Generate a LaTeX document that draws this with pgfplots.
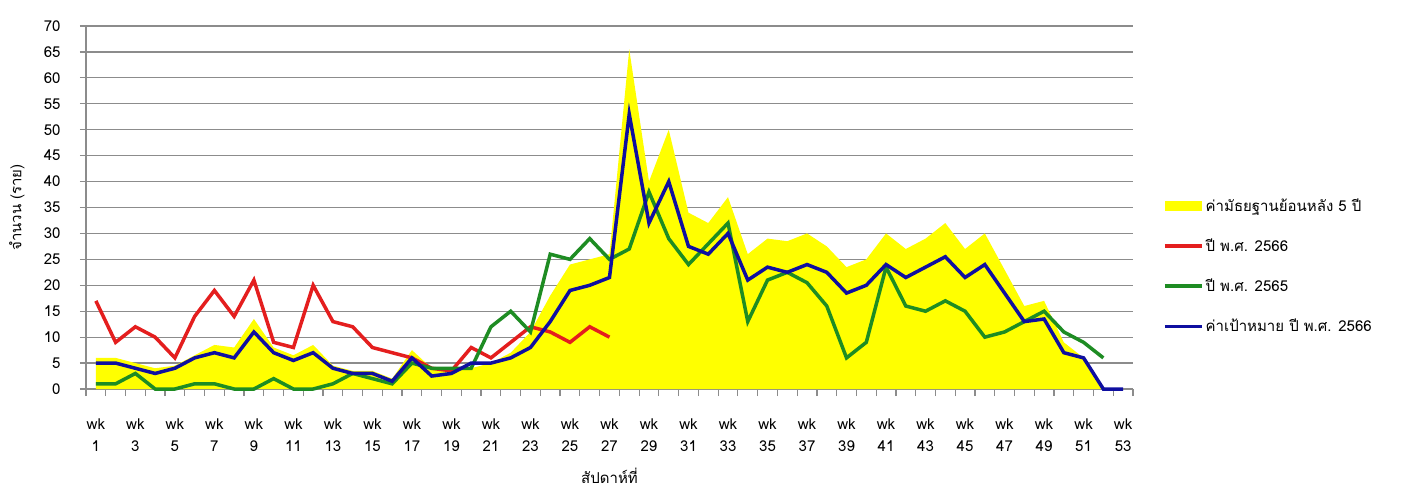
\documentclass[border=0pt]{standalone}
\usepackage{fontspec}
\setmainfont{Loma}[Script=Thai]
\usepackage{pgfplots}
\usepackage{pgfplotstable}
\pgfplotsset{compat=1.18}
\definecolor{cyel}{RGB}{255,255,0}
\definecolor{cred}{RGB}{228,30,30}
\definecolor{cgreen}{RGB}{30,140,35}
\definecolor{cblue}{RGB}{15,15,160}
\definecolor{cgrid}{RGB}{140,140,140}

\pgfplotstableread{
wk med g65 tgt
1 6 1 5
2 6 1 5
3 5 3 4
4 4 0 3
5 4.5 0 4
6 6.5 1 6
7 8.5 1 7
8 8 0 6
9 13.5 0 11
10 8 2 7
11 6.5 0 5.5
12 8.5 0 7
13 4.5 1 4
14 3.5 3 3
15 3.5 2 3
16 2 1 1.5
17 7.5 5 6
18 4 4 2.5
19 4 4 3
20 4 4 5
21 5 12 5
22 7 15 6
23 11 11 8
24 18 26 13
25 24 25 19
26 25 29 20
27 26 25 21.5
28 65.5 27 53
29 40 38 32
30 50 29 40
31 34 24 27.5
32 32 28 26
33 37 32 30
34 26 13 21
35 29 21 23.5
36 28.5 22.5 22.5
37 30 20.5 24
38 27.5 16 22.5
39 23.5 6 18.5
40 25 9 20
41 30 23.5 24
42 27 16 21.5
43 29 15 23.5
44 32 17 25.5
45 27 15 21.5
46 30 10 24
47 23 11 18.5
48 16 13 13
49 17 15 13.5
50 9 11 7
51 6 9 6
52 0 6 0
53 0 nan 0
}\mainT

\pgfplotstableread{
wk v
1 17
2 9
3 12
4 10
5 6
6 14
7 19
8 14
9 21
10 9
11 8
12 20
13 13
14 12
15 8
16 7
17 6
18 4
19 3.5
20 8
21 6
22 9
23 12
24 11
25 9
26 12
27 10
}\redT

\begin{document}
\begin{tikzpicture}[font=\fontsize{15}{22}\selectfont]
\begin{axis}[
  scale only axis, width=1047pt, height=363pt,
  xmin=0.5, xmax=53.5, ymin=0, ymax=70,
  axis x line*=bottom, axis y line*=left,
  axis line style={cgrid, line width=1.2pt, -},
  ytick={0,5,...,70},
  ymajorgrids, grid style={cgrid, line width=1.2pt},
  xtick={1,3,...,53},
  xticklabels={{wk\\1},{wk\\3},{wk\\5},{wk\\7},{wk\\9},{wk\\11},{wk\\13},{wk\\15},{wk\\17},{wk\\19},{wk\\21},{wk\\23},{wk\\25},{wk\\27},{wk\\29},{wk\\31},{wk\\33},{wk\\35},{wk\\37},{wk\\39},{wk\\41},{wk\\43},{wk\\45},{wk\\47},{wk\\49},{wk\\51},{wk\\53}},
  xticklabel style={align=center, yshift=-20pt},
  yticklabel style={xshift=-16pt},
  major x tick style={draw=none},
  minor xtick={0.5,1.5,...,53.5},
  tick align=outside,
  major tick length=6pt, minor tick length=7pt,
  tick style={cgrid, line width=1.2pt},
  /pgf/number format/assume math mode=true,
  ylabel={จำนวน (ราย)},
  ylabel style={at={(axis description cs:0,0.5)}, anchor=south, yshift=58pt},
  xlabel={สัปดาห์ที่},
  xlabel style={at={(axis description cs:0.5,0)}, anchor=north, yshift=-76pt},
  legend style={at={(1,0.339)}, anchor=west, xshift=28pt, draw=none, fill=none,
    inner sep=2pt, row sep=22pt, font=\fontsize{15}{18}\selectfont, cells={anchor=west}},
  legend cell align=left,
  clip=false,
]
\addplot[fill=cyel, draw=none, legend image code/.code={\fill[cyel] (0pt,-5pt) rectangle (37pt,5pt);}]
  table[x=wk, y=med] {\mainT} \closedcycle;
\addlegendentry{ค่ามัธยฐานย้อนหลัง 5 ปี}
\addplot[cred, line width=3.5pt, legend image code/.code={\draw[cred, line width=3.5pt] (0pt,0pt) -- (37pt,0pt);}]
  table[x=wk, y=v] {\redT};
\addlegendentry{ปี พ.ศ. 2566}
\addplot[cgreen, line width=3.5pt, unbounded coords=discard, legend image code/.code={\draw[cgreen, line width=3.5pt] (0pt,0pt) -- (37pt,0pt);}]
  table[x=wk, y=g65] {\mainT};
\addlegendentry{ปี พ.ศ. 2565}
\addplot[cblue, line width=3.5pt, legend image code/.code={\draw[cblue, line width=3.5pt] (0pt,0pt) -- (37pt,0pt);}]
  table[x=wk, y=tgt] {\mainT};
\addlegendentry{ค่าเป้าหมาย ปี พ.ศ. 2566}
\end{axis}
\pgfresetboundingbox
\path (current axis.south west) ++(-86pt,-110pt) rectangle ++(1414pt,499pt);
\end{tikzpicture}
\end{document}
